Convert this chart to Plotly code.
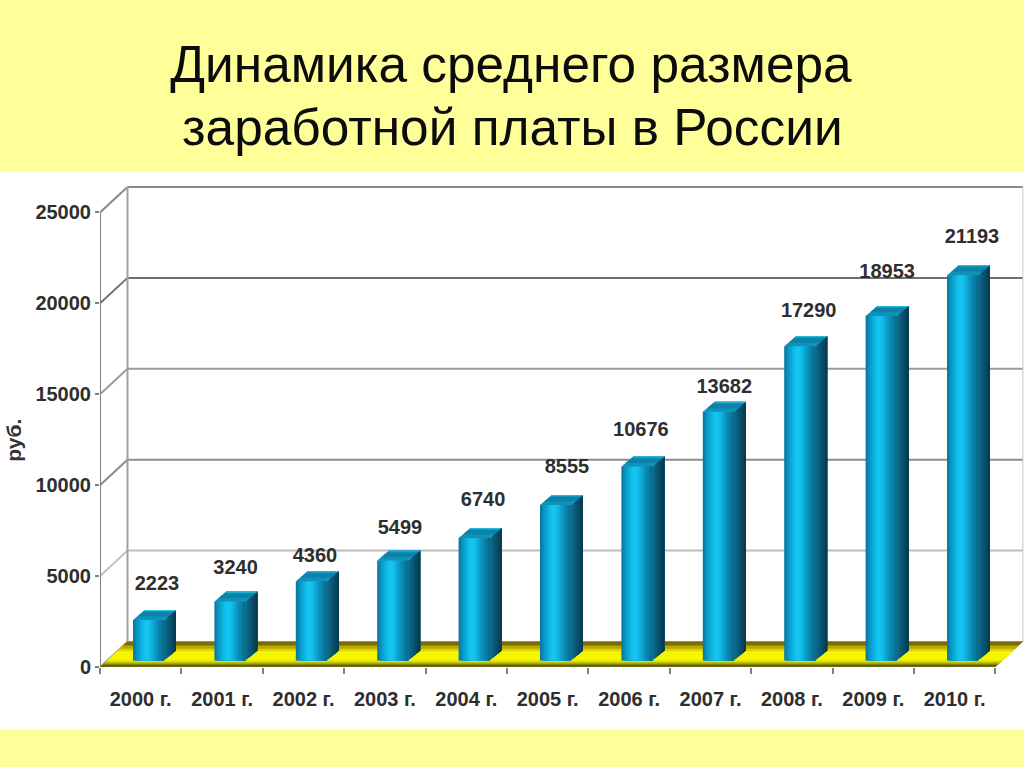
import plotly.graph_objects as go

TITLE_LINES = ["Динамика среднего размера", "заработной платы в России"]
YEARS = ["2000 г.", "2001 г.", "2002 г.", "2003 г.", "2004 г.", "2005 г.",
         "2006 г.", "2007 г.", "2008 г.", "2009 г.", "2010 г."]
SALARY = [2223, 3240, 4360, 5499, 6740, 8555, 10676, 13682, 17290, 18953, 21193]
Y_TICKS = [0, 5000, 10000, 15000, 20000, 25000]
Y_TITLE = "руб."

# label nudges relative to each bar's front top, in pixels
LABEL_DX = [8.5, 5.7, 3.7, 7.3, 9, 11.5, 4, 6, 9, 6, 9.5]
LABEL_DY = [35.5, 33, 24.6, 32, 37, 37, 35.5, 24, 34, 43, 37]

# scales of the drawing
W, H = 1024, 767
LEFT, TOP, BOTTOM = 100, 172, 667.5
PX_PER_CAT = 81.4
PX_PER_UNIT = 91 / 5000
cat = lambda px: px / PX_PER_CAT
val = lambda px: px / PX_PER_UNIT
X0 = -0.5
X_END = len(YEARS) - 0.5
WALL_DX, WALL_DY = cat(27.5), val(25.5)
X_MAX = X0 + cat(W - LEFT)
Y_MAX = val(BOTTOM - TOP)
paper_y = lambda py: (BOTTOM - py) / (BOTTOM - TOP)

BAR_BASE = val(6.5)
BAR_LEFT = cat(-7.7)
BAR_WIDTH = cat(31)
SIDE_DX, SIDE_DY = cat(12), val(10)

FRONT_COLORS = ["#0a7aa2", "#0a86b0", "#0b94c0", "#0b9fcc", "#0ca9d6", "#0eb3e0", "#10bce8",
                "#14c2ee", "#16c6f2", "#15c3ef", "#14bfec", "#11b6e2", "#0fadd9", "#0da2ce",
                "#0c98c4", "#0b8eb8", "#0a86ae", "#0a7ea3", "#0a7698", "#0a6e8e"]
SIDE_COLORS = ["#0c6c8e", "#0b6484", "#0a5b79", "#0a536e", "#094b64", "#08435a", "#073b50"]
TOP_BANDS = [(0.0, "#0f92ba"), (0.35, "#0d82a8"), (0.8, "#1596bc"), (0.92, "#2cc4e4")]
GRID_COLORS = ["#b5b5b5", "#bdbdbd", "#8c8c8c", "#9a9a9a", "#6f6f6f", "#8a8a8a"]
FLOOR_BANDS = [(0.0, "#5f5f08"), (0.10, "#a8a800"), (0.18, "#dcdc00"), (0.26, "#f6f600"),
               (0.62, "#e0d400"), (0.72, "#b9a800"), (0.84, "#7d6c05")]
AXIS_COLOR = "#808080"
TEXT_COLOR = "#2e2e2e"
FONT = "Liberation Sans"

shapes = [dict(type="rect", xref="paper", yref="paper", x0=-0.2, x1=1.2,
               y0=paper_y(730), y1=paper_y(172), fillcolor="white",
               line_width=0, layer="below")]


def line(x0, y0, x1, y1, color, width=2):
    return dict(type="line", xref="x", yref="y", x0=x0, y0=y0, x1=x1, y1=y1,
                line=dict(color=color, width=width), layer="below")


# walls and gridlines
for t, c in zip(Y_TICKS, GRID_COLORS):
    shapes.append(line(X0, t, X0 + WALL_DX, t + WALL_DY, c))
    if t:
        shapes.append(line(X0 + WALL_DX, t + WALL_DY, X_END + WALL_DX, t + WALL_DY, c))
shapes.append(line(X0, 0, X0, Y_TICKS[-1], AXIS_COLOR))
shapes.append(line(X0 + WALL_DX, WALL_DY, X0 + WALL_DX, Y_TICKS[-1] + WALL_DY, "#a0a0a0"))
shapes.append(line(X_END + WALL_DX, WALL_DY, X_END + WALL_DX, Y_TICKS[-1] + WALL_DY, "#c8c8c8", 1))

# floor: each band painted from its start to the back edge
for t0, c in FLOOR_BANDS:
    pts = [(X0 + t0 * WALL_DX, t0 * WALL_DY), (X_END + t0 * WALL_DX, t0 * WALL_DY),
           (X_END + WALL_DX, WALL_DY), (X0 + WALL_DX, WALL_DY)]
    path = "M " + " L ".join(f"{a:.4f},{b:.2f}" for a, b in pts) + " Z"
    shapes.append(dict(type="path", xref="x", yref="y", path=path, fillcolor=c,
                       line_width=0, layer="below"))
shapes.append(line(X0, 0, X_END, 0, "#6b6b20"))

fig = go.Figure()
xs = list(range(len(YEARS)))

# front faces: strips painted over each other, each reaching the right edge
strip = BAR_WIDTH / len(FRONT_COLORS)
for k, c in enumerate(FRONT_COLORS):
    fig.add_trace(go.Bar(x=xs, y=SALARY, base=BAR_BASE, width=BAR_WIDTH - k * strip,
                         offset=BAR_LEFT + k * strip, marker=dict(color=c, line_width=0),
                         hoverinfo="skip" if k else None, showlegend=False))


def polygon_trace(polys, color):
    px, py = [], []
    for poly in polys:
        px += [p[0] for p in poly] + [None]
        py += [p[1] for p in poly] + [None]
    fig.add_trace(go.Scatter(x=px, y=py, mode="lines", fill="toself", fillcolor=color,
                             line=dict(width=0), hoverinfo="skip", showlegend=False))


# side faces
n = len(SIDE_COLORS)
for k, c in enumerate(SIDE_COLORS):
    polys = []
    for i, v in zip(xs, SALARY):
        xr = i + BAR_LEFT + BAR_WIDTH
        a = k / n
        top = BAR_BASE + v
        polys.append([(xr + a * SIDE_DX, BAR_BASE + a * SIDE_DY),
                      (xr + SIDE_DX, BAR_BASE + SIDE_DY),
                      (xr + SIDE_DX, top + SIDE_DY),
                      (xr + a * SIDE_DX, top + a * SIDE_DY)])
    polygon_trace(polys, c)

# top faces
for a, c in TOP_BANDS:
    polys = []
    for i, v in zip(xs, SALARY):
        xl = i + BAR_LEFT
        top = BAR_BASE + v
        polys.append([(xl + a * SIDE_DX, top + a * SIDE_DY),
                      (xl + BAR_WIDTH + a * SIDE_DX, top + a * SIDE_DY),
                      (xl + BAR_WIDTH + SIDE_DX, top + SIDE_DY),
                      (xl + SIDE_DX, top + SIDE_DY)])
    polygon_trace(polys, c)

# value labels
fig.add_trace(go.Scatter(
    x=[i + BAR_LEFT + BAR_WIDTH / 2 + cat(dx) for i, dx in zip(xs, LABEL_DX)],
    y=[BAR_BASE + v + val(dy) for v, dy in zip(SALARY, LABEL_DY)],
    mode="text", text=[str(v) for v in SALARY], textposition="middle center",
    textfont=dict(family=FONT, size=20, color=TEXT_COLOR, weight="bold"),
    hoverinfo="skip", showlegend=False, cliponaxis=False))

fig.update_layout(
    width=W, height=H, autosize=False,
    margin=dict(l=LEFT, r=0, t=TOP, b=H - BOTTOM, pad=0),
    paper_bgcolor="#ffff99", plot_bgcolor="rgba(0,0,0,0)",
    barmode="overlay", showlegend=False, shapes=shapes,
    font=dict(family=FONT, color=TEXT_COLOR),
    title=dict(text=TITLE_LINES[0], x=511 / W, xanchor="center", xref="container",
               y=1 - 64 / H, yanchor="middle", yref="container",
               font=dict(family=FONT, size=51.4, color="#0c0c0c")),
    annotations=[
        dict(text=TITLE_LINES[1], xref="paper", yref="paper", showarrow=False,
             x=(512 - LEFT) / (W - LEFT), xanchor="center", y=paper_y(127), yanchor="middle",
             font=dict(family=FONT, size=51.4, color="#0c0c0c")),
        dict(text=f"<b>{Y_TITLE}</b>", xref="paper", yref="paper", showarrow=False,
             x=(14 - LEFT) / (W - LEFT), xanchor="center", y=paper_y(441), yanchor="middle",
             textangle=-90, font=dict(family=FONT, size=21, color="#333333")),
    ],
    xaxis=dict(range=[X0, X_MAX], tickmode="array", tickvals=xs, ticktext=YEARS,
               ticks="", showgrid=False, zeroline=False, showline=False,
               tickfont=dict(family=FONT, size=20, color=TEXT_COLOR, weight="bold"), ticklabelstandoff=18,
               minor=dict(tickmode="array", tickvals=[i - 0.5 for i in range(len(YEARS) + 1)],
                          ticks="outside", ticklen=6, tickcolor=AXIS_COLOR, tickwidth=2,
                          showgrid=False)),
    yaxis=dict(range=[0, Y_MAX], tickmode="array", tickvals=Y_TICKS, tickformat="d",
               ticks="outside", ticklen=4, tickcolor=AXIS_COLOR, tickwidth=2,
               showgrid=False, zeroline=False, showline=False,
               tickfont=dict(family=FONT, size=20, color=TEXT_COLOR, weight="bold")),
)

fig.write_html("out.html", config=dict(displayModeBar=False),
               post_script="document.body.style.margin='0';document.body.style.overflow='hidden';")
